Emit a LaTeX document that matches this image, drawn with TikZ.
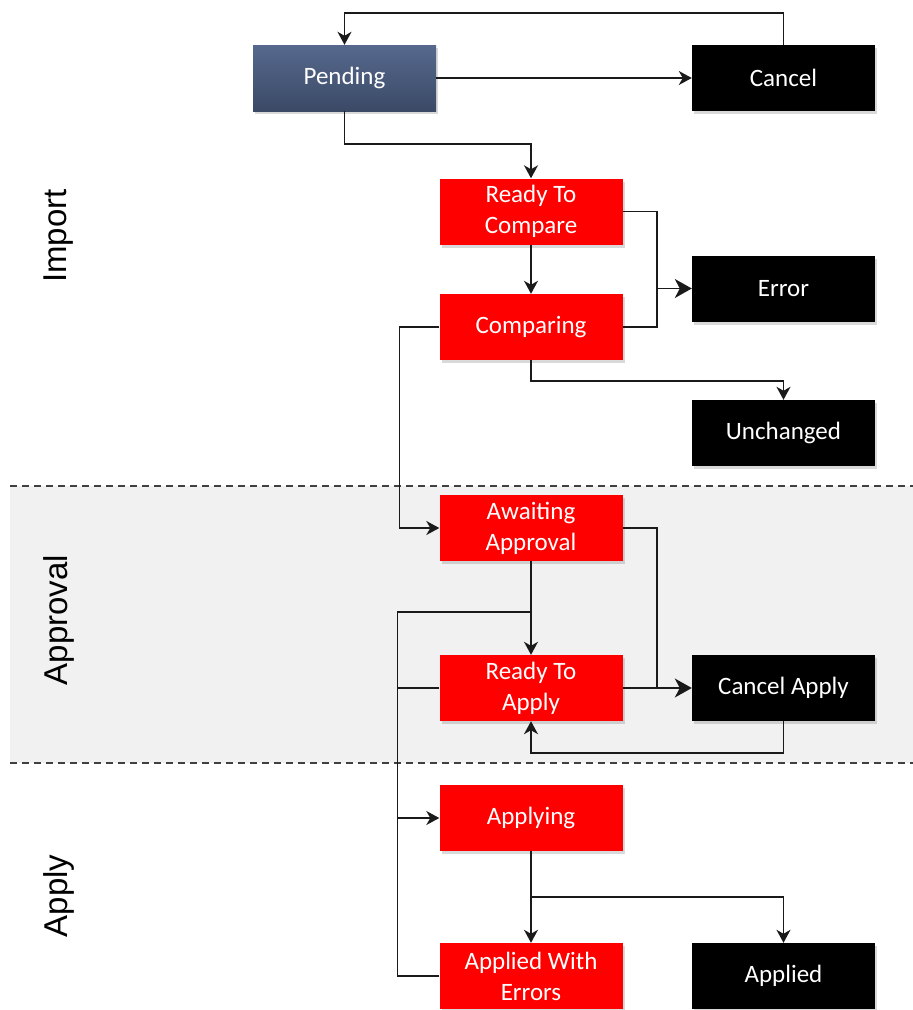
\documentclass[tikz,border=0pt]{standalone}
\usepackage{fontspec}
\setmainfont{Carlito}
\newfontfamily\labfont{Liberation Sans}
\usetikzlibrary{arrows.meta,shadows}
\definecolor{bandgray}{HTML}{F1F1F1}
\definecolor{dashgray}{HTML}{404040}
\definecolor{pendtop}{HTML}{56698D}
\definecolor{pendbot}{HTML}{3B4966}
\definecolor{boxred}{HTML}{FF0000}
\definecolor{linegray}{HTML}{1A1A1A}
\begin{document}
\begin{tikzpicture}[x=1pt,y=-1pt,
  box/.style={minimum width=183pt, minimum height=66pt, inner sep=0pt,
    text=white, align=center, font=\fontsize{25}{31}\selectfont,
    drop shadow={opacity=0.3, shadow xshift=2pt, shadow yshift=-3pt}},
  redbox/.style={box, fill=boxred},
  blackbox/.style={box, fill=black},
  pendbox/.style={box, top color=pendtop, bottom color=pendbot},
  conn/.style={draw=linegray, line width=1.6pt},
  arr/.style={conn, -{Stealth[length=13pt, width=14pt, inset=4pt]}},
  arrbig/.style={conn, -{Stealth[length=17pt, width=19pt, inset=5pt]}},
  phase/.style={rotate=90, font=\labfont\fontsize{33}{36}\selectfont},
  sep/.style={draw=dashgray, line width=2pt, dash pattern=on 7pt off 5pt}
]
\useasboundingbox (0,0) rectangle (913,1010);
% approval band
\fill[bandgray] (10,486) rectangle (913,763);
\draw[sep] (10,486) -- (913,486);
\draw[sep] (10,763) -- (913,763);

% phase labels
\node[phase] (limport) at (59,236) {Import};
\node[phase] (lapproval) at (59,620) {Approval};
\node[phase] (lapply) at (59,896) {Apply};

% nodes
\node[pendbox]  (pending)  at (344.5,78) {Pending};
\node[blackbox] (cancel)   at (783.5,78) {Cancel};
\node[redbox]   (rtc)      at (531,211.5) {Ready To\\Compare};
\node[blackbox] (error)    at (783.5,288.5) {Error};
\node[redbox]   (comp)     at (531,327) {Comparing};
\node[blackbox] (unch)     at (783.5,433) {Unchanged};
\node[redbox]   (aa)       at (531,528) {Awaiting\\Approval};
\node[redbox]   (rta)      at (531,688) {Ready To\\Apply};
\node[blackbox] (capply)   at (783.5,688) {Cancel Apply};
\node[redbox]   (applying) at (531,818) {Applying};
\node[redbox]   (awe)      at (531,976) {Applied With\\Errors};
\node[blackbox] (applied)  at (783.5,976) {Applied};

% junction coordinates
\path (error.west) ++(-35,0) coordinate (j1);
\path (capply.west) ++(-35,0) coordinate (j2);
\path (rta.north) ++(0,-43) coordinate (j3);
\path (applying.south) ++(0,46) coordinate (j4);

% connectors
\draw[arr] (cancel.north) -- ++(0,-32) -| (pending.north);
\draw[arr] (pending.east) -- (cancel.west);
\draw[arr] (pending.south) -- ++(0,33) -| (rtc.north);
\draw[arr] (rtc.south) -- (comp.north);
\draw[conn] (rtc.east) -| (j1);
\draw[conn] (comp.east) -| (j1);
\draw[arrbig] (j1) -- (error.west);
\draw[arr] (comp.south) -- ++(0,21) -| (unch.north);
\draw[arr] (comp.west) -- ++(-40,0) |- (aa.west);
\draw[conn] (aa.east) -| (j2);
\draw[conn] (rta.east) -- (j2);
\draw[arrbig] (j2) -- (capply.west);
\draw[arr] (aa.south) -- (rta.north);
\draw[conn] (awe.west) -- ++(-42,0) |- (j3);
\draw[arr] (rta.west) -- ++(-42,0) |- (applying.west);
\draw[arr] (capply.south) -- ++(0,32) -| (rta.south);
\draw[arr] (applying.south) -- (awe.north);
\draw[arr] (j4) -| (applied.north);
\end{tikzpicture}
\end{document}
